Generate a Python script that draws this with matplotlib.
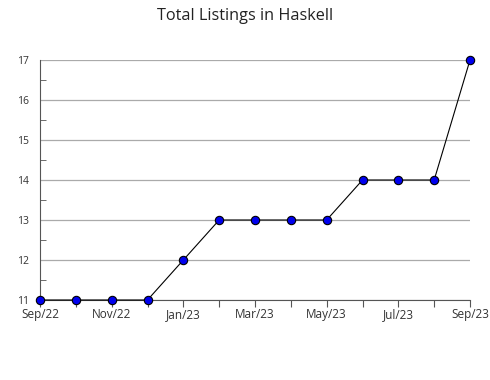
import matplotlib
matplotlib.use('Agg')
import matplotlib.pyplot as plt
from matplotlib.ticker import MultipleLocator

TITLE = 'Total Listings in Haskell'
months = ['Sep/22', 'Oct/22', 'Nov/22', 'Dec/22', 'Jan/23', 'Feb/23', 'Mar/23',
          'Apr/23', 'May/23', 'Jun/23', 'Jul/23', 'Aug/23', 'Sep/23']
listings = [11, 11, 11, 11, 12, 13, 13, 13, 13, 14, 14, 14, 17]

plt.rcParams['font.family'] = ['Open Sans', 'DejaVu Sans']

fig = plt.figure(figsize=(4.9, 3.8), dpi=100)
ax = fig.add_axes([40 / 490, 1 - 300 / 380, 430 / 490, 240 / 380])

x = list(range(len(months)))
ax.plot(x, listings, color='black', lw=0.8, marker='o', ms=6,
        mfc='#0000ee', mec='black', mew=0.8, clip_on=False, zorder=3)

ax.set_xlim(0, len(months) - 1)
ax.set_ylim(11, 17)
ax.yaxis.set_major_locator(MultipleLocator(1))
ax.yaxis.set_minor_locator(MultipleLocator(0.5))
ax.grid(axis='y', color='#aaaaaa', lw=0.9)
ax.set_axisbelow(True)

ax.set_xticks(x)
ax.set_xticklabels([m if i % 2 == 0 else '' for i, m in enumerate(months)])

for side in ['top', 'right']:
    ax.spines[side].set_visible(False)
for side in ['left', 'bottom']:
    ax.spines[side].set_color('#555555')

ax.tick_params(axis='y', which='major', length=0, pad=8, labelsize=7.5, labelcolor='#333333')
ax.tick_params(axis='y', which='minor', direction='in', length=4, color='#555555')
ax.tick_params(axis='x', direction='out', length=5, color='#555555', pad=1,
               labelsize=8.5, labelcolor='#333333')

fig.suptitle(TITLE, y=0.978, fontsize=11.7, color='#222222')

fig.savefig('out.png', dpi=100)
